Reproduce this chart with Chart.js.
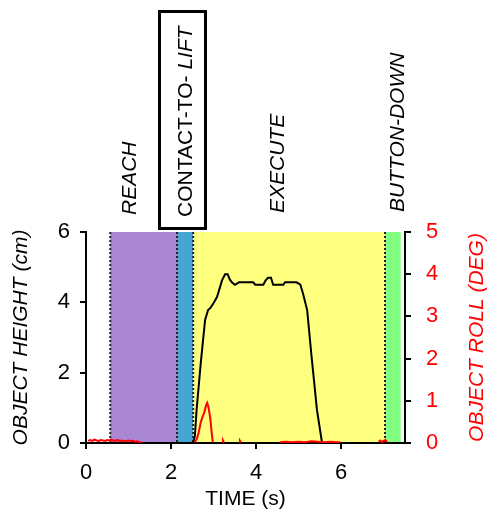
<!DOCTYPE html>
<html>
<head>
<meta charset="utf-8">
<script src="https://cdn.jsdelivr.net/npm/chart.js@4"></script>
<style>
  body { margin: 0; background: #fff; }
  #wrap { width: 488px; height: 521px; }
</style>
</head>
<body>
<div id="wrap"><canvas id="phaseChart" width="488" height="521"></canvas></div>
<script>
// object height trace (black, left axis)
const heightTime = [0, 2.52, 2.56, 2.6, 2.7, 2.8, 2.87, 2.93, 3.0, 3.08, 3.2, 3.27, 3.33, 3.38, 3.43, 3.5, 3.6,
  3.93, 3.98, 4.17, 4.22, 4.28, 4.35, 4.4, 4.64, 4.68, 4.95, 5.04, 5.1, 5.2, 5.3, 5.43, 5.55, 7.5];
const heightCm = [0, 0, 0.2, 0.94, 2.3, 3.5, 3.78, 3.85, 3.98, 4.15, 4.63, 4.8, 4.8, 4.65, 4.57, 4.5, 4.57,
  4.57, 4.5, 4.5, 4.62, 4.7, 4.7, 4.5, 4.5, 4.57, 4.57, 4.5, 4.26, 3.78, 2.5, 0.94, 0, 0];

// object roll trace (red, right axis), null = not visible
const rollTime = [0.05, 0.1, 0.15, 0.2, 0.25, 0.3, 0.35, 0.4, 0.45, 0.5, 0.55, 0.6, 0.65, 0.7, 0.75, 0.8,
  0.85, 0.9, 0.95, 1.0, 1.05, 1.1, 1.15, 1.2, 1.25, 1.3, 1.4,
  2.55, 2.6, 2.65, 2.7, 2.74, 2.78, 2.82, 2.85, 2.88, 2.92, 2.95, 2.98, 3.05,
  3.2, 3.22, 3.24, 3.3, 3.6, 3.62, 3.64, 3.7,
  4.56, 4.7, 4.85, 5.0, 5.15, 5.3, 5.45, 5.6, 5.75, 5.9, 5.98, 6.1,
  6.88, 6.92, 6.96, 7.0, 7.04, 7.08];
const rollDeg = [0.05, 0.07, 0.05, 0.08, 0.06, 0.05, 0.07, 0.06, 0.05, 0.07, 0.06, 0.08, 0.05, 0.06, 0.07, 0.05,
  0.06, 0.04, 0.05, 0.06, 0.04, 0.05, 0.03, 0.04, 0.02, 0.02, null,
  0.02, 0.08, 0.25, 0.5, 0.62, 0.72, 0.88, 0.95, 0.85, 0.6, 0.3, 0.02, null,
  0.02, 0.06, 0.02, null, 0.02, 0.05, 0.02, null,
  0.02, 0.03, 0.02, 0.03, 0.02, 0.04, 0.03, 0.02, 0.03, 0.02, 0.02, null,
  0.03, 0.06, 0.02, 0.05, 0.07, 0.02];

// task phases
const phaseEdges = [0.57, 2.14, 2.52, 7.03, 7.4];
const phaseColors = ["#a987d3", "#46a6d3", "#ffff80", "#80ff80"];
const dividers = [0.57, 2.14, 2.52, 7.03];

const xTicks = [0, 2, 4, 6];
const heightTicks = [0, 2, 4, 6];
const rollTicks = [0, 1, 2, 3, 4, 5];

const FONT = "'Liberation Sans', Arial, sans-serif";

const phasePlugin = {
  id: 'phases',
  beforeDraw(chart) {
    const ctx = chart.ctx;
    const x = chart.scales.x;
    const area = chart.chartArea;
    ctx.save();
    for (let i = 0; i < phaseColors.length; i++) {
      const x0 = x.getPixelForValue(phaseEdges[i]);
      const x1 = x.getPixelForValue(phaseEdges[i + 1]);
      ctx.fillStyle = phaseColors[i];
      ctx.fillRect(x0, area.top, x1 - x0, area.bottom - area.top);
    }
    ctx.strokeStyle = "#222";
    ctx.lineWidth = 2;
    ctx.setLineDash([2, 2]);
    dividers.forEach(t => {
      const px = x.getPixelForValue(t);
      ctx.beginPath();
      ctx.moveTo(px, area.top);
      ctx.lineTo(px, area.bottom);
      ctx.stroke();
    });
    ctx.restore();
  },
  afterDraw(chart) {
    const ctx = chart.ctx;
    ctx.save();
    ctx.fillStyle = "#000";
    ctx.textBaseline = "alphabetic";
    ctx.textAlign = "left";

    function upText(text, bx, by, font) {
      ctx.save();
      ctx.translate(bx, by);
      ctx.rotate(-Math.PI / 2);
      ctx.font = font;
      ctx.fillText(text, 0, 0);
      ctx.restore();
    }
    const it = "italic 21px " + FONT;
    upText("REACH", 135.5, 215, it);
    upText("EXECUTE", 283.5, 213, it);
    upText("BUTTON-DOWN", 403.5, 212, it);

    // contact-to-lift, boxed
    ctx.font = "21px " + FONT;
    const w1 = ctx.measureText("CONTACT-TO- ").width;
    upText("CONTACT-TO- ", 192, 217, "21px " + FONT);
    upText("LIFT", 192, 217 - w1, it);
    ctx.lineWidth = 3;
    ctx.strokeStyle = "#000";
    ctx.strokeRect(159.5, 11.5, 46, 217);

    // right axis title, reading upward
    ctx.save();
    ctx.translate(483, 337.5);
    ctx.rotate(-Math.PI / 2);
    ctx.font = it;
    ctx.fillStyle = "#ff0000";
    ctx.textAlign = "center";
    ctx.fillText("OBJECT ROLL (DEG)", 0, 0);
    ctx.restore();
    ctx.restore();
  }
};

const axisGrid = { drawOnChartArea: false, color: "#000", lineWidth: 2, tickLength: 6, tickWidth: 2 };
const axisBorder = { color: "#000", width: 2 };

new Chart(document.getElementById("phaseChart"), {
  type: "line",
  data: {
    datasets: [
      {
        label: "Object roll",
        data: rollTime.map((t, i) => ({ x: t, y: rollDeg[i] })),
        yAxisID: "y1",
        borderColor: "#ff0000",
        borderWidth: 2,
        pointRadius: 0,
        tension: 0,
        spanGaps: false
      },
      {
        label: "Object height",
        data: heightTime.map((t, i) => ({ x: t, y: heightCm[i] })),
        yAxisID: "y",
        borderColor: "#000",
        borderWidth: 2,
        pointRadius: 0,
        tension: 0
      }
    ]
  },
  options: {
    responsive: false,
    animation: false,
    layout: { padding: { top: 232, left: 0, right: 0, bottom: 0 } },
    plugins: { legend: { display: false }, tooltip: { enabled: false } },
    scales: {
      x: {
        type: "linear",
        min: 0,
        max: 7.5,
        afterBuildTicks: s => { s.ticks = xTicks.map(v => ({ value: v })); },
        afterFit: s => { s.height = 78; },
        grid: axisGrid,
        border: axisBorder,
        ticks: { color: "#000", font: { family: FONT, size: 22 }, padding: 11 },
        title: { display: true, text: "TIME (s)", color: "#000", font: { family: FONT, size: 21 }, padding: { top: 0, bottom: 9 } }
      },
      y: {
        position: "left",
        min: 0,
        max: 6,
        afterBuildTicks: s => { s.ticks = heightTicks.map(v => ({ value: v })); },
        afterFit: s => { s.width = 86; },
        grid: axisGrid,
        border: axisBorder,
        ticks: { color: "#000", font: { family: FONT, size: 22 }, padding: 10 },
        title: { display: true, text: "OBJECT HEIGHT (cm)", color: "#000", font: { family: FONT, size: 21, style: "italic" }, padding: { top: 9, bottom: 0 } }
      },
      y1: {
        position: "right",
        min: 0,
        max: 5,
        afterBuildTicks: s => { s.ticks = rollTicks.map(v => ({ value: v })); },
        afterFit: s => { s.width = 83; },
        grid: axisGrid,
        border: axisBorder,
        ticks: { color: "#ff0000", font: { family: FONT, size: 22 }, padding: 15 }
      }
    }
  },
  plugins: [phasePlugin]
});
</script>
</body>
</html>
